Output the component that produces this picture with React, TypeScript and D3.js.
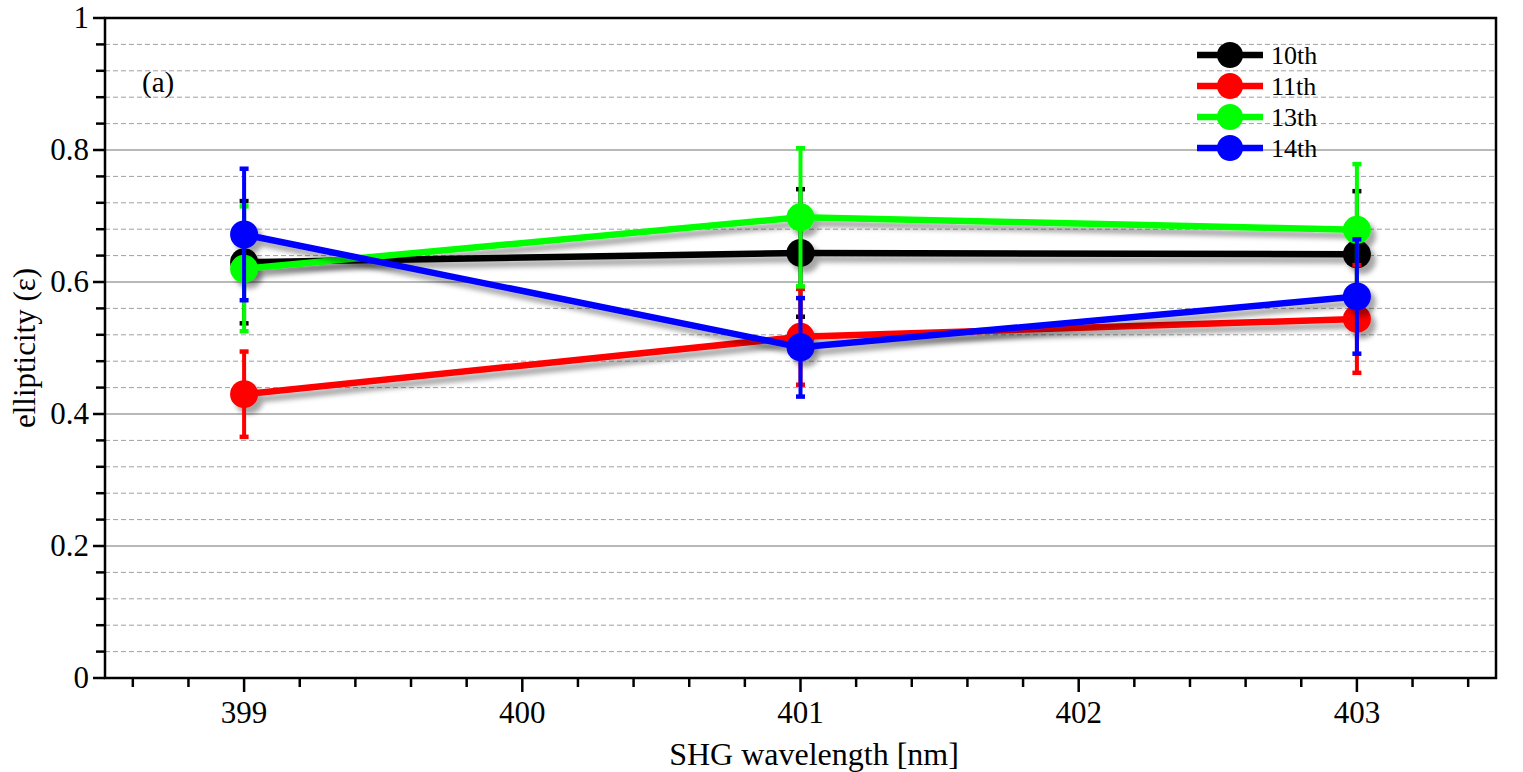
import React from "react";
import * as d3 from "d3";

const wavelengths = [399, 401, 403];
const seriesNames = ["10th", "11th", "13th", "14th"];
const seriesColors = ["#000000", "#ff0000", "#00ff00", "#0000ff"];
const values10 = [0.630, 0.644, 0.642];
const values11 = [0.430, 0.517, 0.544];
const values13 = [0.620, 0.698, 0.679];
const values14 = [0.672, 0.501, 0.578];
const err10 = [0.093, 0.097, 0.096];
const err11 = [0.065, 0.073, 0.082];
const err13 = [0.095, 0.105, 0.100];
const err14 = [0.100, 0.075, 0.087];
const xTickValues = [399, 400, 401, 402, 403];
const yTickValues = [0, 0.2, 0.4, 0.6, 0.8, 1];

const W = 1523;
const H = 772;
const L = 105, R = 1496, T = 18, B = 678;
const FONT = "'Liberation Serif', 'Times New Roman', serif";

export default function App() {
  const x = d3.scaleLinear().domain([398.5, 403.5]).range([L, R]);
  const y = d3.scaleLinear().domain([0, 1]).range([B, T]);
  const series = [
    { name: seriesNames[0], color: seriesColors[0], v: values10, e: err10 },
    { name: seriesNames[1], color: seriesColors[1], v: values11, e: err11 },
    { name: seriesNames[2], color: seriesColors[2], v: values13, e: err13 },
    { name: seriesNames[3], color: seriesColors[3], v: values14, e: err14 },
  ];
  const line = d3
    .line<number>()
    .x((_, i) => x(wavelengths[i]))
    .y((d) => y(d));

  const minorY = d3.range(0, 1.0001, 0.04).map((d) => +d.toFixed(2));
  const minorX = d3.range(398.6, 403.5, 0.2).map((d) => +d.toFixed(1));

  return (
    <svg
      width={W}
      height={H}
      style={{ position: "absolute", left: 0, top: 0, background: "#fff" }}
      fontFamily={FONT}
    >
      <defs>
        <filter id="sh" x="-20%" y="-20%" width="140%" height="140%">
          <feDropShadow dx="5" dy="6" stdDeviation="2.4" floodColor="#000" floodOpacity="0.35" />
        </filter>
      </defs>
      <rect x={0} y={0} width={W} height={H} fill="#fff" />
      {/* grid */}
      {minorY
        .filter((d) => Math.abs((d / 0.2) - Math.round(d / 0.2)) > 1e-6)
        .map((d) => (
          <line key={"gm" + d} x1={L} x2={R} y1={y(d)} y2={y(d)} stroke="#a0a0a0" strokeWidth={1} strokeDasharray="5,3" />
        ))}
      {[0.2, 0.4, 0.6, 0.8].map((d) => (
        <line key={"gM" + d} x1={L} x2={R} y1={y(d)} y2={y(d)} stroke="#a0a0a0" strokeWidth={1.6} />
      ))}
      {/* frame */}
      <rect x={L} y={T} width={R - L} height={B - T} fill="none" stroke="#000" strokeWidth={2.5} />
      {/* y ticks */}
      {minorY.map((d) => {
        const major = yTickValues.some((t) => Math.abs(t - d) < 1e-6);
        return (
          <line key={"yt" + d} x1={L - (major ? 12 : 9)} x2={L} y1={y(d)} y2={y(d)} stroke="#000" strokeWidth={2.5} />
        );
      })}
      {yTickValues.map((d) => (
        <text key={"yl" + d} x={L - 16} y={y(d) + 10} textAnchor="end" fontSize={31}>
          {d === 0 ? "0" : d === 1 ? "1" : d.toFixed(1)}
        </text>
      ))}
      {/* x ticks */}
      {minorX.map((d) => {
        const major = xTickValues.some((t) => Math.abs(t - d) < 1e-6);
        return (
          <line key={"xt" + d} x1={x(d)} x2={x(d)} y1={B} y2={B + (major ? 14 : 9)} stroke="#000" strokeWidth={2.5} />
        );
      })}
      {xTickValues.map((d) => (
        <text key={"xl" + d} x={x(d)} y={723} textAnchor="middle" fontSize={31}>
          {d}
        </text>
      ))}
      <text x={814} y={765} textAnchor="middle" fontSize={32}>
        SHG wavelength [nm]
      </text>
      <text transform={`translate(35, ${(T + B) / 2}) rotate(-90)`} textAnchor="middle" fontSize={31}>
        ellipticity (ε)
      </text>
      <text x={142} y={92} fontSize={29}>(a)</text>
      {/* series */}
      {series.map((s) => (
        <g key={s.name}>
          <g filter="url(#sh)">
            <path d={line(s.v) || ""} fill="none" stroke={s.color} strokeWidth={6.5} strokeLinejoin="round" />
            {s.v.map((v, i) => (
              <circle key={i} cx={x(wavelengths[i])} cy={y(v)} r={14} fill={s.color} />
            ))}
          </g>
          {s.v.map((v, i) => {
            const cx = x(wavelengths[i]);
            const y1 = y(v + s.e[i]);
            const y2 = y(v - s.e[i]);
            return (
              <g key={"e" + i}>
                <line x1={cx} x2={cx} y1={y1} y2={y2} stroke={s.color} strokeWidth={4} />
                <rect x={cx - 4.5} y={y1 - 2} width={9} height={4.5} fill={s.color} />
                <rect x={cx - 4.5} y={y2 - 2.5} width={9} height={4.5} fill={s.color} />
              </g>
            );
          })}
        </g>
      ))}
      {/* legend */}
      {series.map((s, i) => {
        const ly = 55 + i * 31;
        return (
          <g key={"lg" + s.name}>
            <line x1={1197} x2={1263} y1={ly} y2={ly} stroke={s.color} strokeWidth={6.5} />
            <circle cx={1230} cy={ly} r={13} fill={s.color} />
            <text x={1271} y={ly + 9} fontSize={26}>{s.name}</text>
          </g>
        );
      })}
    </svg>
  );
}
